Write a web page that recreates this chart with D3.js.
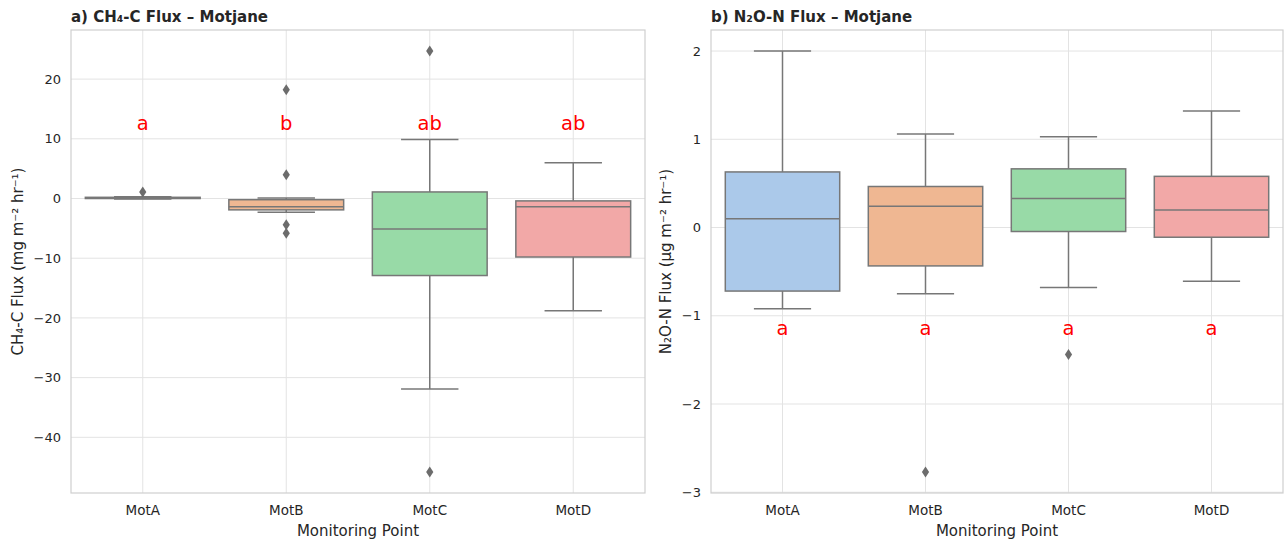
<!DOCTYPE html>
<html>
<head>
<meta charset="utf-8">
<script src="https://cdn.jsdelivr.net/npm/d3@7"></script>
<style>
  html, body { margin: 0; padding: 0; background: #ffffff; }
  svg { display: block; font-family: "DejaVu Sans", sans-serif; }
</style>
</head>
<body>
<svg id="chart" width="1285" height="540"></svg>
<script>
// Monitoring points
const categories = ["MotA", "MotB", "MotC", "MotD"];

// CH4-C flux box statistics (mg m^-2 hr^-1)
const ch4WhiskerLow  = [-0.1, -2.3, -31.9, -18.8];
const ch4Q1          = [0.0, -1.9, -12.9, -9.8];
const ch4Median      = [0.1, -1.4, -5.1, -1.4];
const ch4Q3          = [0.2, -0.2, 1.1, -0.4];
const ch4WhiskerHigh = [0.3, 0.1, 9.9, 6.0];
const ch4Outliers    = [[1.1], [18.2, 4.0, -4.4, -5.8], [24.7, -45.8], []];
const ch4Letters     = ["a", "b", "ab", "ab"];
const ch4Ticks       = [20, 10, 0, -10, -20, -30, -40];

// N2O-N flux box statistics (µg m^-2 hr^-1)
const n2oWhiskerLow  = [-0.92, -0.75, -0.68, -0.61];
const n2oQ1          = [-0.72, -0.435, -0.045, -0.11];
const n2oMedian      = [0.10, 0.24, 0.33, 0.20];
const n2oQ3          = [0.63, 0.465, 0.665, 0.58];
const n2oWhiskerHigh = [2.0, 1.06, 1.03, 1.32];
const n2oOutliers    = [[], [-2.77], [-1.44], []];
const n2oLetters     = ["a", "a", "a", "a"];
const n2oTicks       = [2, 1, 0, -1, -2, -3];

const fills = ["#abc9ea", "#efb792", "#98daa7", "#f2a8a7"];
const lineColor = "#777777";
const gridColor = "#e3e3e3";
const spineColor = "#cfcfcf";
const textColor = "#262626";

const svg = d3.select("#chart");

function panel(opts) {
  const { left, right, top, bottom } = opts;
  const g = svg.append("g");

  // y domain padded 5% around all values
  const all = [].concat(opts.wl, opts.wh, ...opts.out);
  const lo = d3.min(all), hi = d3.max(all), pad = (hi - lo) * 0.05;
  const y = d3.scaleLinear().domain([lo - pad, hi + pad]).range([bottom, top]);
  const x = d3.scaleBand().domain(categories).range([left, right]).padding(0);

  // grid
  g.append("g").selectAll("line").data(opts.ticks).join("line")
    .attr("x1", left).attr("x2", right)
    .attr("y1", d => y(d)).attr("y2", d => y(d))
    .attr("stroke", gridColor).attr("stroke-width", 1);
  g.append("g").selectAll("line").data(categories).join("line")
    .attr("x1", d => x(d) + x.bandwidth() / 2).attr("x2", d => x(d) + x.bandwidth() / 2)
    .attr("y1", top).attr("y2", bottom)
    .attr("stroke", gridColor).attr("stroke-width", 1);

  // y axis
  const yAxis = g.append("g").attr("transform", `translate(${left},0)`)
    .call(d3.axisLeft(y).tickValues(opts.ticks).tickSize(0).tickPadding(10)
      .tickFormat(d => d < 0 ? "\u2212" + Math.abs(d) : String(d)));
  yAxis.select(".domain").remove();
  yAxis.selectAll("text").attr("fill", textColor).attr("font-size", 13)
    .attr("font-family", "DejaVu Sans, sans-serif");

  // x axis
  const xAxis = g.append("g").attr("transform", `translate(0,${bottom})`)
    .call(d3.axisBottom(x).tickSize(0).tickPadding(12));
  xAxis.select(".domain").remove();
  xAxis.selectAll("text").attr("fill", textColor).attr("font-size", 13.5)
    .attr("font-family", "DejaVu Sans, sans-serif");

  // frame
  g.append("rect").attr("x", left).attr("y", top)
    .attr("width", right - left).attr("height", bottom - top)
    .attr("fill", "none").attr("stroke", spineColor).attr("stroke-width", 1.2);

  const bw = x.bandwidth() * 0.8;
  const cx = d => x(categories[d]) + x.bandwidth() / 2;
  const idx = d3.range(categories.length);

  const boxes = g.append("g").selectAll("g").data(idx).join("g");
  // whiskers
  boxes.append("line").attr("x1", cx).attr("x2", cx)
    .attr("y1", i => y(opts.q3[i])).attr("y2", i => y(opts.wh[i]))
    .attr("stroke", lineColor).attr("stroke-width", 1.5);
  boxes.append("line").attr("x1", cx).attr("x2", cx)
    .attr("y1", i => y(opts.q1[i])).attr("y2", i => y(opts.wl[i]))
    .attr("stroke", lineColor).attr("stroke-width", 1.5);
  // caps
  boxes.append("line").attr("x1", i => cx(i) - bw / 4).attr("x2", i => cx(i) + bw / 4)
    .attr("y1", i => y(opts.wh[i])).attr("y2", i => y(opts.wh[i]))
    .attr("stroke", lineColor).attr("stroke-width", 1.5);
  boxes.append("line").attr("x1", i => cx(i) - bw / 4).attr("x2", i => cx(i) + bw / 4)
    .attr("y1", i => y(opts.wl[i])).attr("y2", i => y(opts.wl[i]))
    .attr("stroke", lineColor).attr("stroke-width", 1.5);
  // boxes
  boxes.append("rect").attr("x", i => cx(i) - bw / 2).attr("width", bw)
    .attr("y", i => y(opts.q3[i]))
    .attr("height", i => Math.max(0, y(opts.q1[i]) - y(opts.q3[i])))
    .attr("fill", (i) => fills[i]).attr("stroke", lineColor).attr("stroke-width", 1.5);
  // medians
  boxes.append("line").attr("x1", i => cx(i) - bw / 2).attr("x2", i => cx(i) + bw / 2)
    .attr("y1", i => y(opts.med[i])).attr("y2", i => y(opts.med[i]))
    .attr("stroke", lineColor).attr("stroke-width", 1.5);
  // outliers as thin diamonds
  boxes.each(function (i) {
    d3.select(this).selectAll("path.out").data(opts.out[i]).join("path")
      .attr("class", "out")
      .attr("d", v => {
        const px = cx(i), py = y(v);
        return `M${px},${py - 5.5}L${px + 3.6},${py}L${px},${py + 5.5}L${px - 3.6},${py}Z`;
      })
      .attr("fill", "#6c6c6c");
  });

  // significance letters
  g.append("g").selectAll("text").data(idx).join("text")
    .attr("x", cx).attr("y", y(opts.letterY))
    .attr("text-anchor", "middle").attr("dominant-baseline", "central")
    .attr("fill", "#ff0000").attr("font-size", 19.5)
    .text(i => opts.letters[i]);

  // title
  g.append("text").attr("x", left).attr("y", 22)
    .attr("font-size", 15).attr("font-weight", "bold").attr("fill", textColor)
    .text(opts.title);

  // axis labels
  g.append("text").attr("x", (left + right) / 2).attr("y", 536)
    .attr("text-anchor", "middle").attr("font-size", 15).attr("fill", textColor)
    .text("Monitoring Point");
  g.append("text")
    .attr("transform", `translate(${opts.ylabelX},${(top + bottom) / 2}) rotate(-90)`)
    .attr("text-anchor", "middle").attr("font-size", 15).attr("fill", textColor)
    .text(opts.ylabel);
}

panel({
  left: 71, right: 645, top: 30, bottom: 493,
  wl: ch4WhiskerLow, q1: ch4Q1, med: ch4Median, q3: ch4Q3, wh: ch4WhiskerHigh,
  out: ch4Outliers, letters: ch4Letters, letterY: 12.6, ticks: ch4Ticks,
  title: "a) CH\u2084-C Flux \u2013 Motjane",
  ylabel: "CH\u2084-C Flux (mg m\u207B\u00B2 hr\u207B\u00B9)", ylabelX: 23
});

panel({
  left: 711, right: 1283, top: 30, bottom: 493,
  wl: n2oWhiskerLow, q1: n2oQ1, med: n2oMedian, q3: n2oQ3, wh: n2oWhiskerHigh,
  out: n2oOutliers, letters: n2oLetters, letterY: -1.14, ticks: n2oTicks,
  title: "b) N\u2082O-N Flux \u2013 Motjane",
  ylabel: "N\u2082O-N Flux (\u00B5g m\u207B\u00B2 hr\u207B\u00B9)", ylabelX: 671
});
</script>
</body>
</html>
